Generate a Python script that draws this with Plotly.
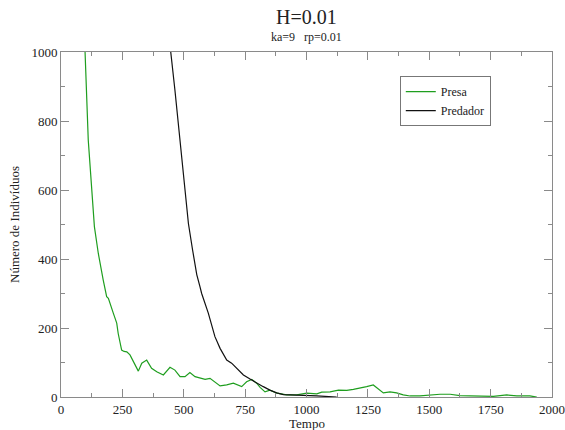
import plotly.graph_objects as go

# Presa (prey) trace
presa_t = [93, 98, 111, 125, 132, 136, 152, 166, 172, 186, 193, 213, 227, 233, 247, 257, 268, 281,
           295, 315, 329, 340, 349, 369, 390, 417, 444, 464, 485, 505, 525, 546, 566, 587, 607,
           627, 648, 675, 702, 736, 756, 777, 797, 811, 831, 851, 879, 919, 960, 1001, 1042, 1062,
           1096, 1130, 1164, 1191, 1218, 1245, 1272, 1293, 1313, 1340, 1367, 1394, 1422, 1462,
           1503, 1544, 1585, 1625, 1666, 1720, 1761, 1816, 1857, 1910, 1938]
presa_n = [1040, 1000, 745, 600, 513, 494, 416, 355, 339, 291, 286, 243, 214, 184, 136, 132, 131, 122,
           102, 75, 98, 104, 107, 83, 73, 64, 86, 78, 59, 59, 71, 59, 56, 51, 54,
           44, 32, 35, 40, 30, 44, 51, 40, 28, 15, 20, 11, 6, 6, 11, 9, 14,
           15, 20, 19, 22, 25, 30, 35, 22, 12, 15, 12, 6, 3, 3,
           6, 8, 8, 4, 3, 3, 2, 6, 3, 3, 0]

# Predador (predator) trace
pred_t = [440, 447, 464, 478, 491, 505, 519, 536, 553, 566, 573, 600, 627, 648, 675, 695, 716, 743,
          770, 797, 824, 851, 879, 906, 946, 987, 1042, 1123]
pred_n = [1030, 1000, 890, 793, 697, 600, 503, 426, 355, 320, 300, 243, 175, 141, 107, 98, 83, 64,
          52, 40, 30, 20, 12, 7, 6, 6, 3, 0]

x_ticks = [0, 250, 500, 750, 1000, 1250, 1500, 1750, 2000]
y_ticks = [0, 200, 400, 600, 800, 1000]

FONT = "Liberation Serif"
AXIS_COL = "#8a8a8a"

fig = go.Figure()
fig.add_trace(go.Scatter(x=presa_t, y=presa_n, mode="lines", name="Presa",
                         line=dict(color="#1f9e1f", width=1.2)))
fig.add_trace(go.Scatter(x=pred_t, y=pred_n, mode="lines", name="Predador",
                         line=dict(color="#111111", width=1.2)))

axis_common = dict(showline=True, linecolor=AXIS_COL, linewidth=1, mirror="ticks",
                   ticks="inside", ticklen=8, tickcolor=AXIS_COL, tickwidth=1,
                   showgrid=False, zeroline=False, automargin=False,
                   tickfont=dict(family=FONT, size=13, color="#222"),
                   minor=dict(ticks="inside", ticklen=4, tickcolor=AXIS_COL, showgrid=False))

fig.update_xaxes(range=[0, 2000], tickvals=x_ticks, ticktext=[str(v) for v in x_ticks],
                 ticklabelstandoff=0,
                 **axis_common)
fig.update_yaxes(range=[0, 1000], tickvals=y_ticks, ticktext=[str(v) for v in y_ticks],
                 title=dict(text="Número de Indivíduos",
                            font=dict(family=FONT, size=13, color="#222"), standoff=8),
                 **axis_common)
fig.update_xaxes(minor=dict(dtick=125, tick0=0))
fig.update_yaxes(minor=dict(dtick=100, tick0=0))

fig.update_layout(
    width=565, height=430,
    margin=dict(l=61, r=13, t=52, b=33),
    paper_bgcolor="white", plot_bgcolor="white",
    font=dict(family=FONT, color="#222"),
    showlegend=True,
    legend=dict(x=0.69, y=0.93, xanchor="left", yanchor="top",
                bordercolor="#777", borderwidth=1, bgcolor="white",
                font=dict(family=FONT, size=12, color="#222"),
                itemwidth=30, tracegroupgap=0),
    annotations=[
        dict(text="H=0.01", x=0.5, y=1, xref="paper", yref="paper", xanchor="center",
             yanchor="bottom", yshift=22, showarrow=False,
             font=dict(family=FONT, size=20, color="#222")),
        dict(text="ka=9&nbsp;&nbsp;&nbsp;rp=0.01", x=0.5, y=1, xref="paper", yref="paper",
             xanchor="center", yanchor="bottom", yshift=6, showarrow=False,
             font=dict(family=FONT, size=12, color="#222")),
        dict(text="Tempo", x=0.5, y=0, xref="paper", yref="paper", xanchor="center",
             yanchor="top", yshift=-17, showarrow=False,
             font=dict(family=FONT, size=13, color="#222")),
    ],
)

fig.write_html("out.html")
